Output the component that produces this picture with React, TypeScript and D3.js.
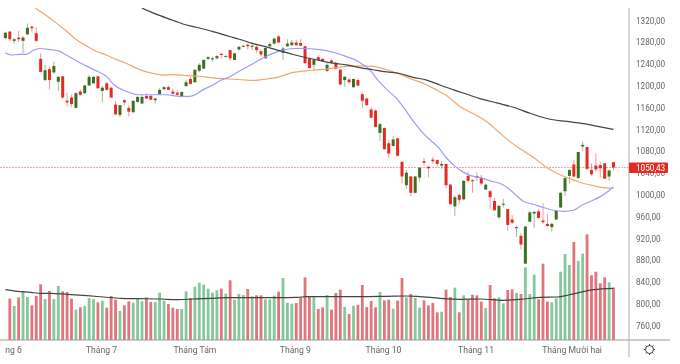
import React from "react";
import * as d3 from "d3";

const highs = [1300,1301,1289,1301,1292,1315,1311,1308,1260,1239,
1236,1245,1218,1218,1188,1184,1188,1194,1202,1220,
1218,1218,1200,1208,1199,1173,1165,1176,1165,1173,
1182,1184,1187,1185,1179,1196,1200,1201,1196,1192,
1190,1211,1217,1231,1242,1249,1255,1253,1257,1262,
1258,1267,1261,1274,1275,1278,1281,1277,1267,1271,
1280,1289,1294,1272,1286,1285,1285,1286,1274,1253,
1251,1256,1251,1242,1249,1245,1231,1218,1215,1214,
1214,1188,1179,1161,1157,1133,1124,1101,1109,1105,
1061,1046,1035,1035,1051,1068,1053,1070,1065,1063,
1057,1020,1000,1003,1027,1043,1029,1042,1037,1021,
1009,995,982,993,974,963,944,930,943,971,
971,975,985,965,949,972,1006,1034,1047,1065,
1079,1098,1089,1058,1076,1061,1059,1046,1061];
const lows = [1286,1283,1277,1281,1260,1294,1300,1281,1225,1209,
1194,1222,1191,1177,1162,1162,1159,1182,1185,1200,
1204,1195,1170,1192,1178,1147,1143,1165,1144,1151,
1170,1167,1176,1174,1168,1184,1193,1193,1182,1182,
1179,1198,1203,1206,1225,1231,1248,1245,1249,1251,
1253,1247,1248,1266,1271,1267,1266,1261,1254,1250,
1271,1276,1279,1248,1272,1274,1274,1274,1241,1232,
1228,1247,1244,1226,1241,1230,1201,1199,1204,1196,
1200,1159,1163,1141,1124,1099,1083,1068,1089,1071,
1021,1012,998,1003,1024,1054,1032,1058,1051,1048,
1012,982,961,982,990,1024,1004,1026,1018,1009,
974,971,955,977,934,947,922,900,873,950,
939,956,947,941,933,954,976,998,1021,1032,
1030,1081,1046,1035,1043,1032,1029,1026,1045];
const opens = [1288,1300,1283,1289,1283,1295,1309,1297,1250,1211,
1231,1225,1208,1218,1173,1179,1160,1190,1187,1201,
1205,1218,1191,1205,1197,1166,1147,1174,1160,1152,
1171,1168,1182,1182,1174,1185,1194,1198,1190,1188,
1180,1200,1213,1207,1228,1232,1250,1249,1251,1259,
1254,1266,1248,1267,1272,1276,1272,1272,1264,1251,
1273,1278,1291,1261,1273,1275,1280,1279,1273,1250,
1239,1253,1250,1228,1247,1242,1230,1211,1212,1198,
1211,1185,1177,1157,1155,1114,1123,1095,1090,1104,
1061,1018,1034,1004,1032,1062,1052,1065,1064,1054,
1057,1019,979,1000,992,1035,1027,1035,1032,1010,
1007,989,959,982,974,955,939,925,874,951,
966,970,953,947,941,955,977,1007,1035,1056,
1031,1089,1088,1046,1054,1055,1058,1034,1060];
const closes = [1298,1286,1286,1286,1289,1307,1306,1283,1226,1229,
1211,1237,1217,1179,1170,1167,1187,1184,1201,1217,
1217,1196,1197,1193,1179,1148,1165,1170,1153,1173,
1180,1180,1177,1175,1177,1193,1198,1193,1186,1184,
1189,1207,1204,1230,1239,1248,1253,1251,1255,1257,
1255,1251,1260,1272,1274,1273,1274,1266,1258,1270,
1277,1287,1280,1269,1278,1280,1275,1274,1242,1233,
1248,1248,1245,1239,1243,1232,1203,1217,1207,1213,
1201,1173,1165,1142,1125,1130,1084,1076,1102,1072,
1034,1041,1004,1034,1050,1059,1049,1062,1057,1057,
1018,983,996,991,1026,1026,1026,1032,1021,1019,
996,972,980,984,945,949,941,909,942,968,
969,958,950,943,947,971,1004,1031,1046,1034,
1079,1092,1048,1038,1047,1049,1030,1045,1050.43];
const volumes = [0,124,102,128,146,129,104,132,167,123,
147,123,162,146,144,124,91,98,102,126,
123,113,118,97,132,121,87,104,116,112,
123,116,128,114,114,142,118,108,97,93,
93,146,126,160,172,166,154,142,149,154,
139,179,121,138,135,153,131,134,134,122,
122,133,145,186,112,109,111,128,188,131,
129,93,98,135,91,141,151,99,78,103,
106,165,99,117,98,144,119,121,94,118,
186,128,138,126,97,119,104,111,83,85,
151,129,157,83,134,122,136,134,115,96,
165,125,128,110,150,152,141,138,218,138,
196,122,229,115,113,125,205,258,225,294,
237,259,317,194,205,170,188,173,157];

const blueIdx = [0,1.3,3.2,4.7,6.2,7.7,10,11.9,13.8,16,18.3,20.6,22.9,24.7,26.3,28.2,30,32,34.2,36.5,38.4,40.3,41.8,43.3,44.8,47.1,49,50.9,53.2,56.2,58.8,60.7,63,65.3,67.5,71.3,74.4,77.4,79.7,81.2,82.7,84.2,86.5,88.8,90.7,92.6,94.5,96.4,98.3,100.2,102,103.9,105.8,107.7,110,112.3,114.2,116.1,117.6,119.8,122.1,124.4,126.7,128.9,130.8,132.7,135,136.5,138];
const blueVal = [1261,1257,1258,1258,1265,1269,1267,1265,1257,1247,1237,1228,1218,1202,1194,1188,1184,1184,1184,1184,1182,1181,1181,1185,1193,1202,1211,1217,1228,1241,1253,1260,1266,1269,1269,1267,1262,1254,1247,1239,1230,1214,1194,1177,1157,1135,1116,1101,1087,1067,1053,1042,1035,1032,1026,1021,1012,998,988,983,977,972,970,972,981,988,997,1005,1015];
const orangeIdx = [6.8,9.2,11.5,13.8,16,18.3,20.6,22.9,25.1,27.4,29.7,32,34.2,35.7,38,41,44,47.1,50.9,56.2,59.2,62.2,65.3,68.3,71.3,74.4,77.4,80.4,83.4,86.5,89.5,91.8,94.8,97.8,100.2,103.2,106.2,109.2,111.9,114.5,117.2,120.2,122.9,125.2,127.8,130.5,133.5,136.1,138];
const orangeVal = [1343,1330,1316,1301,1286,1274,1264,1257,1249,1242,1233,1226,1222,1220,1221,1219,1218,1215,1213,1210.5,1213,1217,1225,1228,1230,1233,1236,1237,1236,1230,1222,1214,1205,1193,1182,1162,1149,1135,1116,1098,1083,1067,1050,1040,1031,1023,1017,1013,1012];
const blackIdx = [31,34.2,37.2,40.3,43.3,47.1,50.9,53.1,56.2,59.2,62.2,65.3,68.3,71.3,74.4,77.4,80.4,83.4,86.5,89.5,92.5,95.6,98.6,101.7,104.7,107.7,111.5,115.3,119.1,123.6,127.4,131.2,135,138];
const blackVal = [1343,1332,1323,1314,1308,1300,1291,1286,1278,1272,1265,1258,1252,1247,1242,1239,1234,1230,1226,1223,1216,1211,1202,1193,1185,1177,1169,1161,1150,1139,1135,1131,1125,1120.5];
const volMaIdx = [0,2.7,5.7,8,10.2,14,18.5,22.3,26.1,30.6,35.2,39,42.7,46.5,51,56.4,61.6,66.2,68.4,73.7,80.5,86.6,91.1,93.4,96.4,99.4,103.2,107.8,113,117.6,121.4,125.2,127.8,130.4,133.5,138];
const volMaVal = [151,146,143,140,140,137,133,129,125,124,123,121,123,125,127,127,127,128,130,130,130,131,132,131,128,124,122,123,119,123,128,129,135,143,151,155];

const priceTicks = [1320,1280,1240,1200,1160,1120,1080,1040,1000,960,920,880,840,800,760];
const monthLabels = ["Tháng 6","Tháng 7","Tháng Tám","Tháng 9","Tháng 10","Tháng 11","Tháng Mười hai"];
const monthIdx = [0.2,21.8,43,65.8,85.8,106.8,128.6];
const lastPrice = 1050.43;

const W = 680, H = 364;
const axisX = 629, baseY = 340;
const x = d3.scaleLinear().domain([0, 138]).range([5.4, 613.5]);
const y = d3.scaleLinear().domain([760, 1320]).range([325.7, 20.7]);
const v = d3.scaleLinear().domain([0, 317]).range([baseY, baseY - 317 / 3]);
const UP = "#3d6f22", DOWN = "#e32b22", VUP = "#86c79c", VDOWN = "#e2747c";
const fmt = (n: number) => n.toFixed(2).replace(".", ",");
const maLine = (idx: number[], vals: number[], sc: d3.ScaleLinear<number, number>) =>
  d3.line<number>().x((d) => x(d)).y((_, k) => sc(vals[k])).curve(d3.curveMonotoneX)(idx) || "";

export default function App() {
  const font = "Roboto, 'Liberation Sans', sans-serif";
  return (
    <svg width={W} height={H} viewBox={`0 0 ${W} ${H}`}
      style={{ position: "absolute", left: 0, top: 0, background: "#fff", filter: "blur(0.4px)" }}>
      <defs>
        <clipPath id="plot"><rect x={0} y={8} width={axisX} height={baseY - 8} /></clipPath>
        <clipPath id="months"><rect x={5} y={baseY} width={axisX - 5} height={20} /></clipPath>
      </defs>
      {priceTicks.map((t) => (
        <text key={t} x={636} y={y(t) + 3} fontFamily={font} fontSize={8.2} fill="#666">{fmt(t)}</text>
      ))}
      <g>
        {volumes.map((vol, i) => vol > 0 && (
          <rect key={i} x={x(i) - 1.4} width={2.8} y={v(vol)} height={baseY - v(vol)}
            fill={closes[i] >= opens[i] ? VUP : VDOWN} />
        ))}
      </g>
      <path d={maLine(volMaIdx, volMaVal, v)} fill="none" stroke="#444" strokeWidth={1.2} />
      <line x1={0} x2={axisX} y1={y(lastPrice)} y2={y(lastPrice)} stroke="#f6a3a3" strokeWidth={1} strokeDasharray="2 1" />
      <g clipPath="url(#plot)">
        {opens.map((o, i) => {
          const c = closes[i];
          const col = c >= o ? UP : DOWN;
          const top = y(Math.max(o, c)), bot = y(Math.min(o, c));
          return (
            <g key={i}>
              <line x1={x(i)} x2={x(i)} y1={y(highs[i])} y2={y(lows[i])} stroke={col} strokeWidth={0.8} opacity={0.6} />
              <rect x={x(i) - 1.5} width={3} y={top} height={Math.max(bot - top, 1)} fill={col} />
            </g>
          );
        })}
        <path d={maLine(orangeIdx, orangeVal, y)} fill="none" stroke="#f4a66a" strokeWidth={1.2} />
        <path d={maLine(blueIdx, blueVal, y)} fill="none" stroke="#9a9cff" strokeWidth={1.2} />
        <path d={maLine(blackIdx, blackVal, y)} fill="none" stroke="#444" strokeWidth={1.2} />
      </g>
      <line x1={0} x2={670} y1={baseY} y2={baseY} stroke="#9a9a9a" strokeWidth={1} />
      <line x1={axisX} x2={axisX} y1={8} y2={357} stroke="#bdbdbd" strokeWidth={1.2} />
      <rect x={axisX} y={y(lastPrice) - 5} width={39} height={10.4} rx={1} fill="#e32b22" />
      <text x={636} y={y(lastPrice) + 3} fontFamily={font} fontSize={8.2} fill="#fff">{fmt(lastPrice)}</text>
      <g clipPath="url(#months)">
        {monthLabels.map((m, i) => (
          <text key={m} x={x(monthIdx[i])} y={353} textAnchor="middle" fontFamily={font} fontSize={8.6} fill="#666">{m}</text>
        ))}
      </g>
      <g transform="translate(649.5,349.5)" stroke="#444" fill="none">
        <circle r={4} strokeWidth={1} />
        {d3.range(8).map((k) => {
          const a = (k * Math.PI) / 4;
          return <line key={k} x1={3.8 * Math.cos(a)} y1={3.8 * Math.sin(a)} x2={5.6 * Math.cos(a)} y2={5.6 * Math.sin(a)} strokeWidth={1} />;
        })}
      </g>
    </svg>
  );
}
